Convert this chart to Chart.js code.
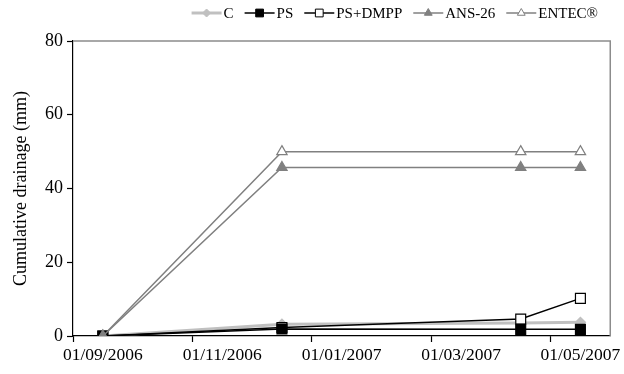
<!DOCTYPE html>
<html>
<head>
<meta charset="utf-8">
<script src="https://cdn.jsdelivr.net/npm/chart.js@4/dist/chart.umd.min.js"></script>
<style>
  html, body { margin: 0; padding: 0; background: #ffffff; }
  #wrap { width: 624px; height: 374px; }
</style>
</head>
<body>
<div id="wrap"><canvas id="chart" width="624" height="374"></canvas></div>
<script>
// Monthly axis slots (September 2006 to May 2007)
const months = ['01/09/2006', '01/10/2006', '01/11/2006', '01/12/2006', '01/01/2007',
                '01/02/2007', '01/03/2007', '01/04/2007', '01/05/2007'];
// Sampling dates (month slot of each measurement)
const sampleDates = ['01/09/2006', '01/12/2006', '01/04/2007', '01/05/2007'];

// Cumulative drainage (mm) per treatment
const seriesNames = ['C', 'PS', 'PS+DMPP', 'ANS-26', 'ENTEC®'];
const drainC      = [0, 3.2, 3.5, 3.7];
const drainPS     = [0, 1.9, 1.8, 1.8];
const drainPSDMPP = [0, 2.3, 4.6, 10.2];
const drainANS26  = [0, 45.7, 45.7, 45.7];
const drainENTEC  = [0, 50.0, 50.0, 50.0];

const yTicks = [0, 20, 40, 60, 80];

const FONT = "'Liberation Serif', 'Times New Roman', serif";

// Line/marker style per series; layer: higher value sits further back
const styles = [
  { line: '#c0c0c0', width: 3,   shape: 'rectRot',  radius: 5, fill: '#c0c0c0', stroke: '#c0c0c0', layer: 5 },
  { line: '#000000', width: 1.5, shape: 'rect',     radius: 7, fill: '#000000', stroke: '#000000', layer: 2 },
  { line: '#000000', width: 1.5, shape: 'rect',     radius: 7, fill: '#ffffff', stroke: '#000000', layer: 4 },
  { line: '#808080', width: 1.5, shape: 'triangle', radius: 6, fill: '#808080', stroke: '#808080', layer: 1 },
  { line: '#808080', width: 1.5, shape: 'triangle', radius: 6, fill: '#ffffff', stroke: '#808080', layer: 3 }
];
const values = [drainC, drainPS, drainPSDMPP, drainANS26, drainENTEC];

function toPoints(vals) {
  return sampleDates.map((d, i) => ({ x: d, y: vals[i] }));
}

const datasets = seriesNames.map((name, i) => ({
  label: name,
  data: toPoints(values[i]),
  borderColor: styles[i].line,
  borderWidth: styles[i].width,
  backgroundColor: styles[i].fill,
  pointStyle: styles[i].shape,
  pointRadius: styles[i].radius,
  pointHoverRadius: styles[i].radius,
  pointBackgroundColor: styles[i].fill,
  pointBorderColor: styles[i].stroke,
  pointBorderWidth: 1.2,
  tension: 0,
  fill: false,
  order: styles[i].layer
}));

// Light frame on the top and right of the plotting area
const frame = {
  id: 'frame',
  beforeDatasetsDraw(chart) {
    const { ctx, chartArea: a } = chart;
    ctx.save();
    ctx.strokeStyle = '#8c8c8c';
    ctx.lineWidth = 1.5;
    ctx.beginPath();
    ctx.moveTo(a.left, a.top);
    ctx.lineTo(a.right, a.top);
    ctx.lineTo(a.right, a.bottom);
    ctx.stroke();
    ctx.restore();
  }
};

// Legend row: line-with-marker swatch followed by the series name
const lineLegend = {
  id: 'lineLegend',
  afterDraw(chart) {
    const { ctx } = chart;
    const y = 13, swatch = 30, textGap = 2, itemGap = 11, right = 598;
    ctx.save();
    ctx.font = '15px ' + FONT;
    ctx.textBaseline = 'middle';
    ctx.textAlign = 'left';
    const widths = chart.data.datasets.map(ds => swatch + textGap + ctx.measureText(ds.label).width);
    const total = widths.reduce((a, b) => a + b, 0) + itemGap * (widths.length - 1);
    let x = right - total;
    chart.data.datasets.forEach((ds, i) => {
      const st = styles[i];
      ctx.strokeStyle = st.line;
      ctx.lineWidth = st.width;
      ctx.beginPath(); ctx.moveTo(x, y); ctx.lineTo(x + swatch, y); ctx.stroke();
      ctx.fillStyle = st.fill;
      ctx.strokeStyle = st.stroke;
      ctx.lineWidth = 1;
      Chart.helpers.drawPoint(ctx, {
        pointStyle: st.shape,
        radius: st.shape === 'rect' ? 5.5 : (st.shape === 'rectRot' ? 4 : 4.5),
        borderWidth: 1
      }, x + swatch / 2, y);
      ctx.fillStyle = '#000000';
      ctx.fillText(ds.label, x + swatch + textGap, y + 1);
      x += widths[i] + itemGap;
    });
    ctx.restore();
  }
};

new Chart(document.getElementById('chart'), {
  type: 'line',
  data: { labels: months, datasets },
  plugins: [frame, lineLegend],
  options: {
    responsive: false,
    animation: false,
    events: [],
    layout: { padding: { left: 10, right: 13, top: 41, bottom: 0 } },
    plugins: {
      tooltip: { enabled: false },
      legend: { display: false }
    },
    scales: {
      x: {
        type: 'category',
        offset: true,
        border: { color: '#000000', width: 1.2 },
        grid: {
          offset: true,
          drawOnChartArea: false,
          drawTicks: true,
          tickLength: 6,
          tickWidth: 1.2,
          tickColor: (ctx) => (typeof ctx.index === 'number' && ctx.index % 2 === 0) ? '#000000' : 'rgba(0,0,0,0)'
        },
        ticks: {
          autoSkip: false,
          maxRotation: 0,
          minRotation: 0,
          padding: 3,
          color: '#000000',
          font: { family: FONT, size: 17.5 },
          callback: (v, i) => (i % 2 === 0 ? months[i] : '')
        },
        afterFit: (s) => { s.height = 38; }
      },
      y: {
        min: 0,
        max: 80,
        border: { color: '#000000', width: 1.2 },
        grid: { drawOnChartArea: false, drawTicks: true, tickLength: 6, tickWidth: 1.2, tickColor: '#000000' },
        afterBuildTicks: (s) => { s.ticks = yTicks.map(v => ({ value: v })); },
        ticks: {
          padding: 4,
          color: '#000000',
          font: { family: FONT, size: 18 }
        },
        title: {
          display: true,
          text: 'Cumulative drainage (mm)',
          color: '#000000',
          font: { family: FONT, size: 18 },
          padding: { top: 0, bottom: 2 }
        },
        afterFit: (s) => { s.width = 63; }
      }
    }
  }
});
</script>
</body>
</html>
